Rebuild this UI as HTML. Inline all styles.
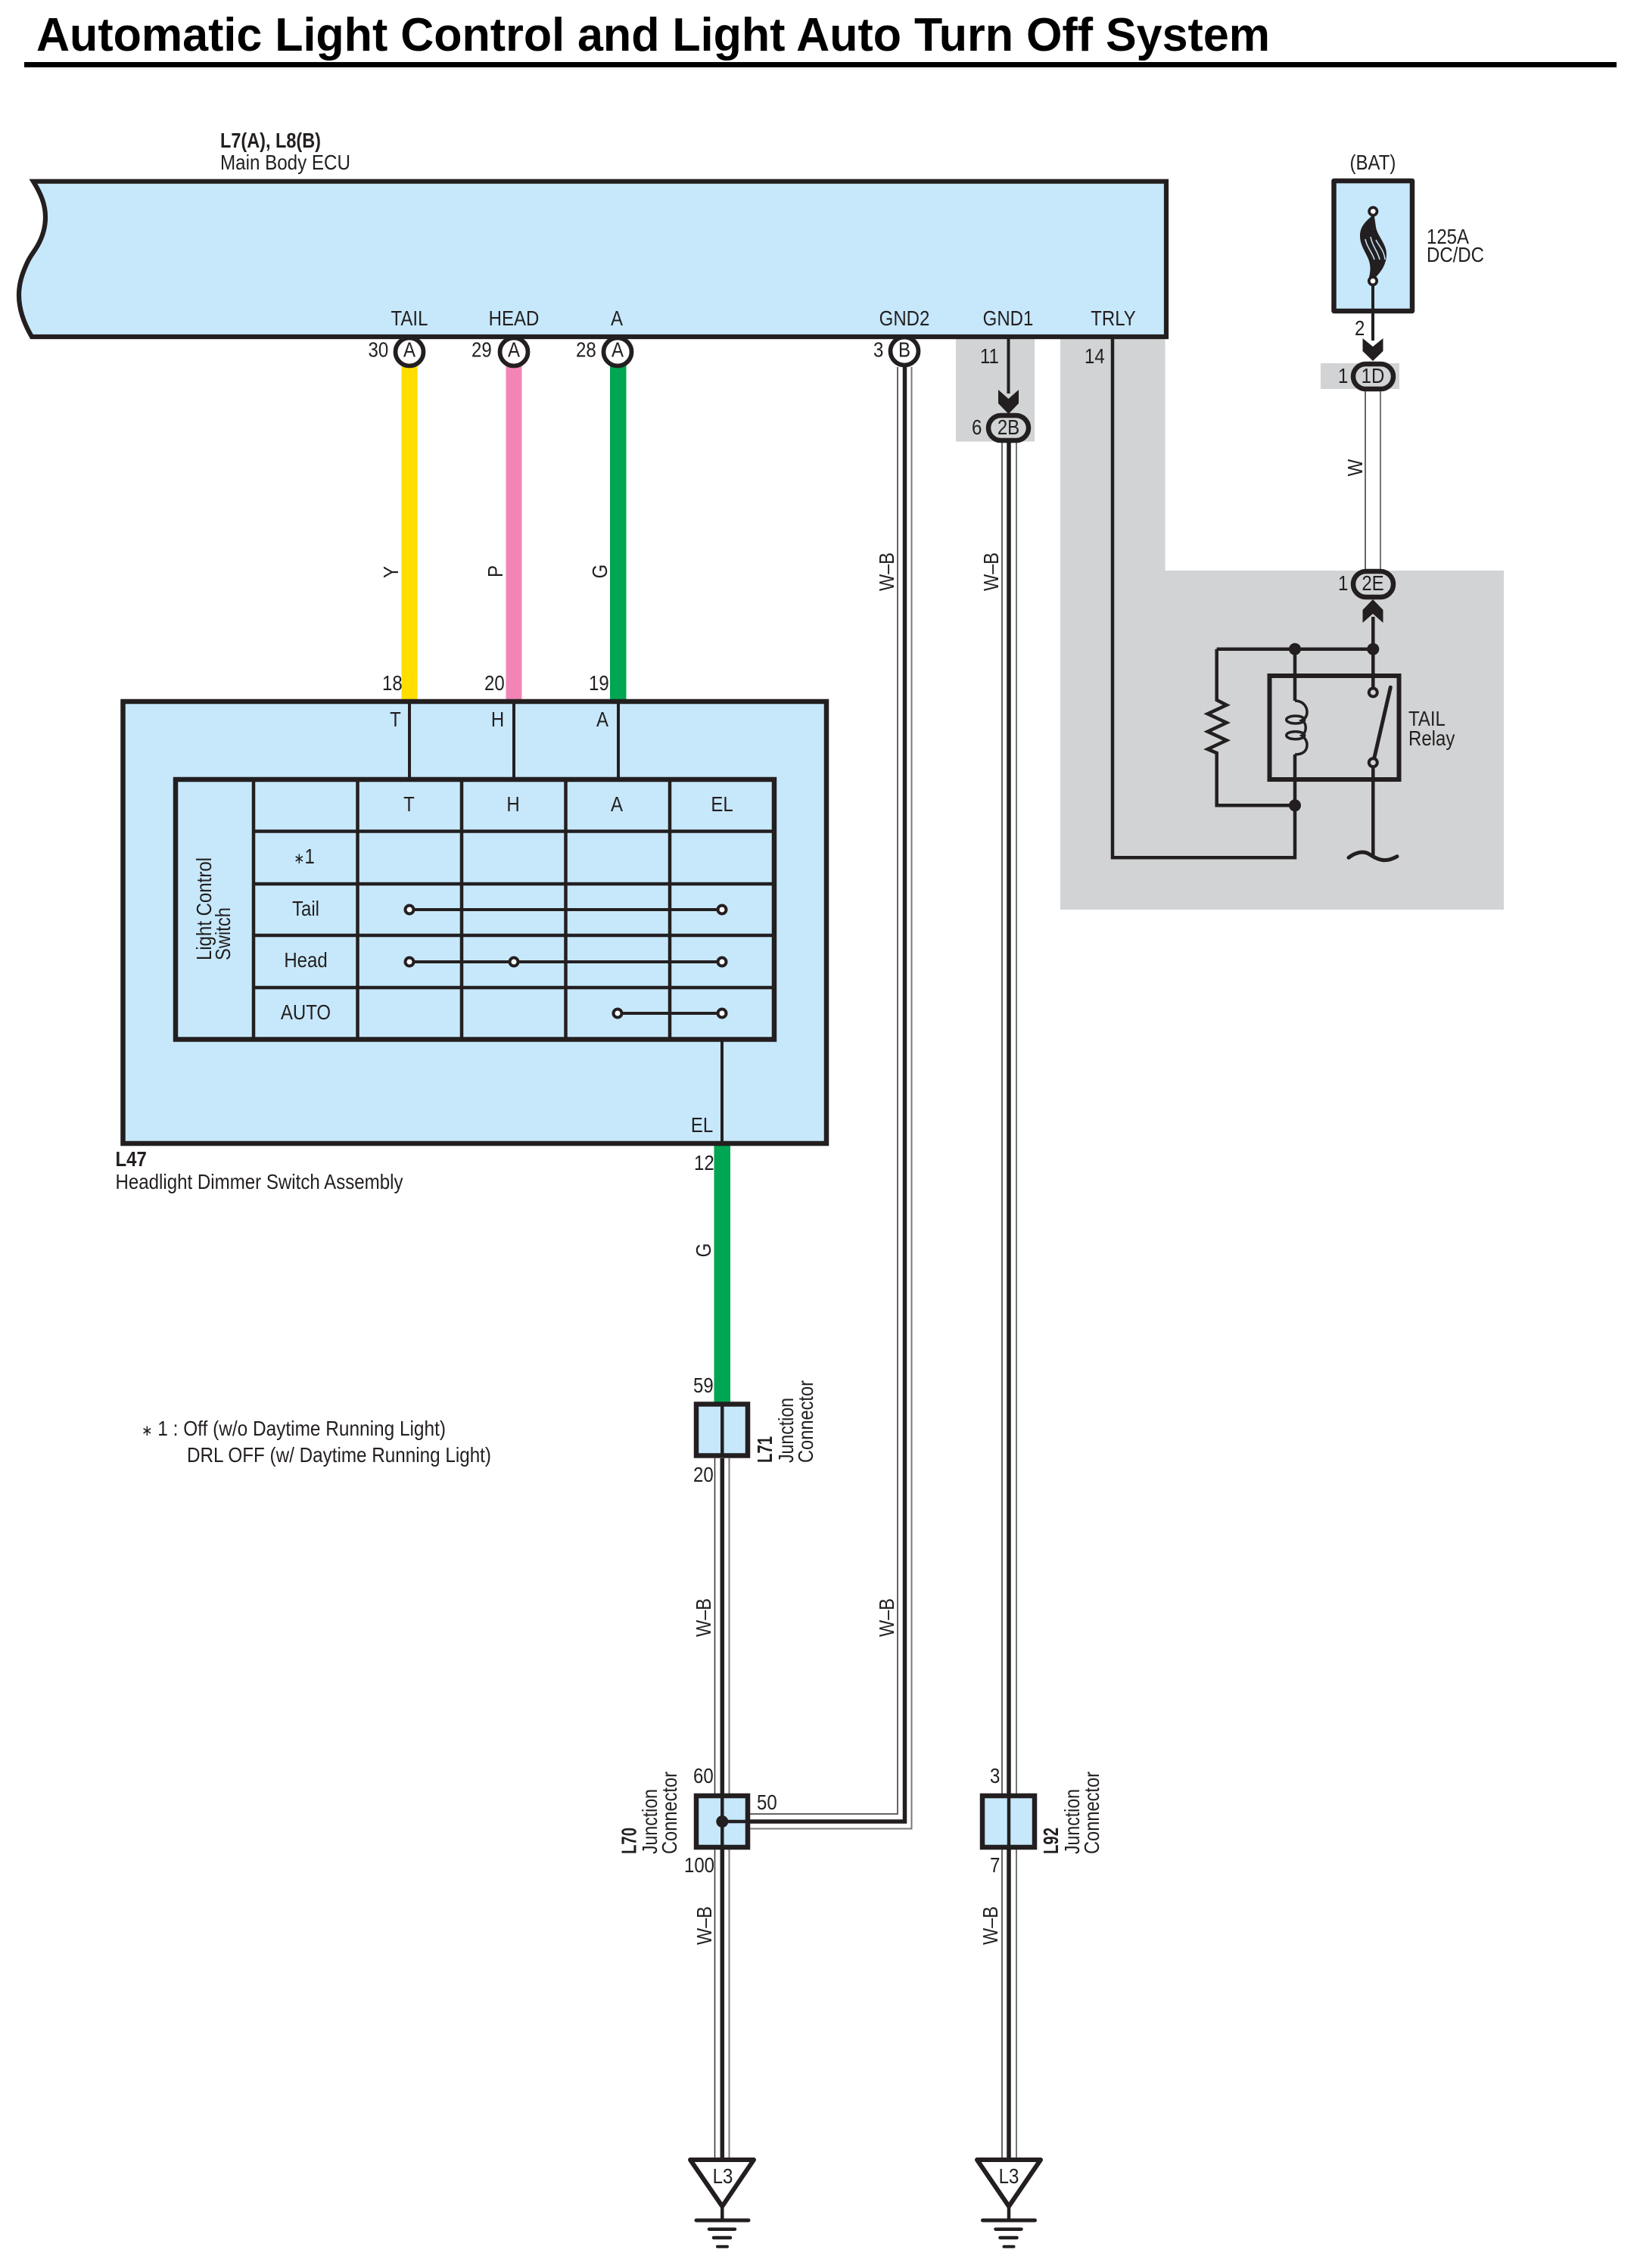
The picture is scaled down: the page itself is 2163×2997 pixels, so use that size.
<!DOCTYPE html>
<html><head><meta charset="utf-8"><style>
html,body{margin:0;padding:0;background:#fff}
svg{display:block}
text{font-family:"Liberation Sans",sans-serif;font-size:24px;fill:#231f20;transform-box:fill-box;transform-origin:50% 81%;transform:scaleY(1.17)}
text.t{transform:none;font-size:62px;font-weight:bold;fill:#000}
.c{text-anchor:middle}
.b{font-weight:bold}
</style></head><body>
<svg xmlns="http://www.w3.org/2000/svg" width="2163" height="2997" viewBox="0 0 2163 2997">
<rect width="2163" height="2997" fill="#fff"/>
<!-- title -->
<text class="t" x="48" y="67" textLength="1630" lengthAdjust="spacingAndGlyphs">Automatic Light Control and Light Auto Turn Off System</text>
<rect x="32" y="82" width="2104" height="7" fill="#000"/>
<!-- gray areas -->
<rect x="1263" y="448" width="104" height="135.500" fill="#d1d3d4"/>
<polygon points="1401,448 1539.500,448 1539.500,754 1987,754 1987,1202 1401,1202" fill="#d1d3d4"/>
<rect x="1745" y="480" width="104" height="34" fill="#d1d3d4"/>
<!-- ECU -->
<path d="M44 239.700C54 256,60 270,60 287C60 303,55 315,50 324C45 333,40 338,36 347C29 362,25 375,25 390C25 410,32 428,42 445L1541 445L1541 239.700Z" fill="#c7e8fb" stroke="#231f20" stroke-width="6.200" stroke-linejoin="miter"/>
<text x="291" y="195" class="b" textLength="133" lengthAdjust="spacingAndGlyphs">L7(A), L8(B)</text>
<text x="291" y="224" textLength="172" lengthAdjust="spacingAndGlyphs">Main Body ECU</text>
<text x="541" y="430" class="c">TAIL</text>
<text x="679" y="430" class="c">HEAD</text>
<text x="815" y="430" class="c">A</text>
<text x="1195" y="430" class="c">GND2</text>
<text x="1332" y="430" class="c">GND1</text>
<text x="1471" y="430" class="c">TRLY</text>
<!-- colored wires -->
<rect x="530.500" y="483" width="21" height="443" fill="#ffde00"/>
<rect x="668.500" y="483" width="21" height="443" fill="#f285b5"/>
<rect x="806" y="483" width="21.500" height="443" fill="#00a651"/>
<rect x="943.500" y="1511" width="21.500" height="342" fill="#00a651"/>
<!-- ECU connectors -->
<g fill="#fff" stroke="#231f20" stroke-width="5.800">
<circle cx="541" cy="465" r="18.500"/><circle cx="679" cy="465" r="18.500"/><circle cx="816" cy="465" r="18.500"/><circle cx="1195" cy="464" r="18.500"/>
</g>
<text x="541" y="471.500" class="c">A</text><text x="679" y="471.500" class="c">A</text><text x="816" y="471.500" class="c">A</text><text x="1195" y="471.500" class="c">B</text>
<text x="486.500" y="471.500">30</text><text x="623" y="471.500">29</text><text x="761" y="471.500">28</text><text x="1154" y="471.500">3</text>
<text x="1295" y="480">11</text><text x="1433" y="480">14</text><text x="1284" y="574">6</text>
<text x="505" y="912">18</text><text x="640" y="912">20</text><text x="778" y="912">19</text><text x="917" y="1546">12</text>
<!-- switch assembly -->
<rect x="162.500" y="927" width="929.500" height="584" fill="#c7e8fb" stroke="#231f20" stroke-width="6.500"/>
<g stroke="#231f20" stroke-width="4" fill="none">
<path d="M541 927V1030M679 927V1030M817 927V1030M954 1373V1511"/>
</g>
<rect x="232" y="1030" width="791" height="343.500" fill="#c7e8fb" stroke="#231f20" stroke-width="6.500"/>
<g stroke="#231f20" stroke-width="4.500" fill="none">
<path d="M335 1030V1373M472.500 1030V1373M610 1030V1373M747.500 1030V1373M885 1030V1373"/>
<path d="M335 1098.500H1023M335 1168H1023M335 1236H1023M335 1305H1023"/>
<path d="M541 1202H954M541 1271H954M816 1339H954" stroke-width="4"/>
</g>
<g fill="#fff" stroke="#231f20" stroke-width="4">
<circle cx="541" cy="1202" r="5.500"/><circle cx="954" cy="1202" r="5.500"/>
<circle cx="541" cy="1271" r="5.500"/><circle cx="679" cy="1271" r="5.500"/><circle cx="954" cy="1271" r="5.500"/>
<circle cx="816" cy="1339" r="5.500"/><circle cx="954" cy="1339" r="5.500"/>
</g>
<text x="540.500" y="1072" class="c">T</text><text x="678" y="1072" class="c">H</text><text x="815" y="1072" class="c">A</text><text x="954" y="1072" class="c">EL</text>
<text x="402" y="1141" class="c"><tspan style="font-size:17px">∗</tspan>1</text>
<text x="404" y="1210" class="c">Tail</text>
<text x="404" y="1278" class="c">Head</text>
<text x="404" y="1347" class="c">AUTO</text>
<g transform="translate(279 1269) rotate(-90)"><text textLength="136" lengthAdjust="spacingAndGlyphs">Light Control</text></g>
<g transform="translate(304 1269) rotate(-90)"><text textLength="70" lengthAdjust="spacingAndGlyphs">Switch</text></g>
<text x="522.500" y="960" class="c">T</text><text x="657.500" y="960" class="c">H</text><text x="796" y="960" class="c">A</text><text x="927.500" y="1496" class="c">EL</text>
<text x="152.500" y="1541" class="b">L47</text>
<text x="152.500" y="1571" textLength="380" lengthAdjust="spacingAndGlyphs">Headlight Dimmer Switch Assembly</text>
<!-- note -->
<text x="187" y="1897" textLength="402" lengthAdjust="spacingAndGlyphs"><tspan style="font-size:17px">∗</tspan> 1 : Off (w/o Daytime Running Light)</text>
<text x="247" y="1932" textLength="402" lengthAdjust="spacingAndGlyphs">DRL OFF (w/ Daytime Running Light)</text>
<!-- w-b wires -->
<g fill="none" stroke="#333" stroke-width="1.500">
<path d="M944.500 1927V2370M944.500 2443V2853"/>
<path d="M1186 485V2397H991"/>
<path d="M1324 585V2370M1324 2443V2853"/>
<path d="M1804 517V753"/>
</g>
<g fill="none" stroke="#77787b" stroke-width="2">
<path d="M963.500 1927V2370M963.500 2443V2853"/>
<path d="M1204.500 485V2416.500H991"/>
<path d="M1343 585V2370M1343 2443V2853"/>
<path d="M1824 517V753"/>
</g>
<g fill="none" stroke="#231f20" stroke-width="5.500">
<path d="M954.300 1927V2370M954.300 2443V2853"/>
<path d="M1195.500 485V2407H991"/>
<path d="M1333 585V2370M1333 2443V2853"/>
</g>
<g transform="translate(1181 781) rotate(-90)"><text textLength="51" lengthAdjust="spacingAndGlyphs">W–B</text></g>
<g transform="translate(1319 781) rotate(-90)"><text textLength="51" lengthAdjust="spacingAndGlyphs">W–B</text></g>
<g transform="translate(939 2163) rotate(-90)"><text textLength="51" lengthAdjust="spacingAndGlyphs">W–B</text></g>
<g transform="translate(1181 2163) rotate(-90)"><text textLength="51" lengthAdjust="spacingAndGlyphs">W–B</text></g>
<g transform="translate(940 2570) rotate(-90)"><text textLength="51" lengthAdjust="spacingAndGlyphs">W–B</text></g>
<g transform="translate(1318 2570) rotate(-90)"><text textLength="51" lengthAdjust="spacingAndGlyphs">W–B</text></g>
<g transform="translate(526 756) rotate(-90)"><text class="c">Y</text></g>
<g transform="translate(664 755) rotate(-90)"><text class="c">P</text></g>
<g transform="translate(802 755) rotate(-90)"><text class="c">G</text></g>
<g transform="translate(939 1652) rotate(-90)"><text class="c">G</text></g>
<g transform="translate(1800 618) rotate(-90)"><text class="c">W</text></g>
<!-- junction connectors -->
<rect x="920" y="1855.500" width="68" height="68" fill="#c7e8fb" stroke="#231f20" stroke-width="6.500"/>
<rect x="920" y="2373" width="68" height="68" fill="#c7e8fb" stroke="#231f20" stroke-width="6.500"/>
<rect x="1298" y="2373" width="69" height="68" fill="#c7e8fb" stroke="#231f20" stroke-width="6.500"/>
<path d="M954.300 1855V1925M954.300 2373V2441M1333 2373V2441M954.300 2407H991" stroke="#231f20" stroke-width="4.500" fill="none"/>
<circle cx="954.300" cy="2407" r="8" fill="#231f20"/>
<text x="916" y="1840">59</text><text x="916" y="1958">20</text>
<text x="916" y="2356">60</text><text x="1000" y="2391">50</text><text x="904" y="2474">100</text>
<text x="1308" y="2356">3</text><text x="1308" y="2474">7</text>
<g transform="translate(1020 1933) rotate(-90)"><text class="b" textLength="35" lengthAdjust="spacingAndGlyphs">L71</text></g>
<g transform="translate(1048 1933) rotate(-90)"><text textLength="86" lengthAdjust="spacingAndGlyphs">Junction</text></g>
<g transform="translate(1074 1933) rotate(-90)"><text textLength="109" lengthAdjust="spacingAndGlyphs">Connector</text></g>
<g transform="translate(840.500 2450) rotate(-90)"><text class="b" textLength="35" lengthAdjust="spacingAndGlyphs">L70</text></g>
<g transform="translate(868 2450) rotate(-90)"><text textLength="86" lengthAdjust="spacingAndGlyphs">Junction</text></g>
<g transform="translate(894 2450) rotate(-90)"><text textLength="109" lengthAdjust="spacingAndGlyphs">Connector</text></g>
<g transform="translate(1398 2450) rotate(-90)"><text class="b" textLength="35" lengthAdjust="spacingAndGlyphs">L92</text></g>
<g transform="translate(1426 2450) rotate(-90)"><text textLength="86" lengthAdjust="spacingAndGlyphs">Junction</text></g>
<g transform="translate(1452 2450) rotate(-90)"><text textLength="109" lengthAdjust="spacingAndGlyphs">Connector</text></g>
<!-- grounds -->
<g fill="#fff" stroke="#231f20" stroke-width="6" stroke-linejoin="round">
<polygon points="912,2854 996,2854 954.300,2915.500"/>
<polygon points="1291,2854 1375,2854 1333,2915.500"/>
</g>
<g stroke="#231f20" fill="none" stroke-linecap="round">
<path d="M954.300 2916V2934M1333 2916V2934" stroke-width="4.500"/>
<path d="M920 2934H989M1298.500 2934H1367.500" stroke-width="5"/>
<path d="M937 2945.700H971M1315.500 2945.700H1349.500" stroke-width="4.500"/>
<path d="M943 2957H965M1321.500 2957H1343.500" stroke-width="4.500"/>
<path d="M948 2968.700H961M1326.500 2968.700H1339.500" stroke-width="4"/>
</g>
<text x="955" y="2885" class="c">L3</text><text x="1333" y="2885" class="c">L3</text>
<!-- GND1 -->
<path d="M1332.500 446V520" stroke="#231f20" stroke-width="4"/>
<polygon points="1319,515 1332.500,527 1346,515 1346,533 1332.500,547 1319,533" fill="#231f20"/>
<rect x="1306" y="549" width="53" height="33" rx="16.500" fill="#d1d3d4" stroke="#231f20" stroke-width="6.500"/>
<text x="1332.500" y="574" class="c">2B</text>
<!-- Fuse -->
<rect x="1762.500" y="239" width="103.500" height="172" fill="#c7e8fb" stroke="#231f20" stroke-width="6.500" stroke-linejoin="round"/>
<path d="M1814 371V450" stroke="#231f20" stroke-width="4"/>
<path d="M1812 286C1800 296,1797 303,1797 312C1797 325,1806 335,1809 345C1811 352,1811 358,1809 366L1818 366C1826 358,1832 348,1832 336C1832 322,1820 312,1818 300L1816 286Z" fill="#231f20"/>
<path d="M1804 316C1806 327,1813 333,1816 343M1811 313C1813 325,1820 331,1823 343M1818 317C1822 325,1829 331,1830 343" stroke="#c7e8fb" stroke-width="1.500" fill="none"/>
<circle cx="1814.300" cy="279.300" r="5.200" fill="#fff" stroke="#231f20" stroke-width="3.700"/>
<circle cx="1814" cy="371.300" r="5.200" fill="#fff" stroke="#231f20" stroke-width="3.700"/>
<text x="1814" y="224" class="c">(BAT)</text>
<text x="1885" y="322">125A</text>
<text x="1885" y="346">DC/DC</text>
<text x="1790" y="443">2</text>
<polygon points="1800.500,447 1814,458 1827.500,447 1827.500,464 1814,477 1800.500,464" fill="#231f20"/>
<rect x="1788" y="481" width="53" height="33" rx="16.500" fill="#d1d3d4" stroke="#231f20" stroke-width="6.500"/>
<text x="1814" y="506" class="c">1D</text>
<text x="1768" y="506">1</text>
<text x="1768" y="780">1</text>
<rect x="1788" y="755" width="53" height="34" rx="17" fill="#d1d3d4" stroke="#231f20" stroke-width="6.500"/>
<text x="1814" y="780" class="c">2E</text>
<polygon points="1800.500,823 1814,811 1827.500,823 1827.500,806 1814,792 1800.500,806" fill="#231f20"/>
<!-- relay -->
<rect x="1677.500" y="893" width="171" height="137" fill="none" stroke="#231f20" stroke-width="6"/>
<g fill="none" stroke="#231f20" stroke-width="4.500">
<path d="M1470 446V1133.300H1711V997M1711 857.700V926"/>
<path d="M1814.300 815V915M1814.300 1007V1133"/>
<path d="M1607.700 857.700H1814"/>
<path d="M1607.700 857.700V925L1620.700 931.700L1595.700 943.300L1620.700 955L1595.700 966.700L1620.700 978.300L1595.700 990L1607.700 995V1064.300H1711"/>
<path d="M1837.300 908.300L1815.500 1003" stroke-width="5" stroke-linecap="round"/>
<path d="M1782 1133.300C1790 1127,1800 1124,1808 1128C1818 1134,1828 1142,1846 1131.700" stroke-width="5" stroke-linecap="round"/>
<path d="M1711 926C1722 926,1727 934,1727 941C1727 947,1724 950,1720 952C1727 955,1727 968,1720 972C1724 975,1727 979,1727 984C1727 992,1722 997,1711 997" stroke-width="3.500"/>
<ellipse cx="1711.700" cy="951" rx="12" ry="5" stroke-width="3.500"/>
<ellipse cx="1711.700" cy="971.700" rx="12" ry="5" stroke-width="3.500"/>
</g>
<circle cx="1711" cy="857.700" r="8" fill="#231f20"/><circle cx="1814.300" cy="857.700" r="8" fill="#231f20"/><circle cx="1711" cy="1064.300" r="8" fill="#231f20"/>
<circle cx="1814.300" cy="915" r="5.500" fill="#d1d3d4" stroke="#231f20" stroke-width="4"/>
<circle cx="1814.300" cy="1007.700" r="5.500" fill="#d1d3d4" stroke="#231f20" stroke-width="4"/>
<text x="1861" y="959">TAIL</text>
<text x="1861" y="985">Relay</text>
</svg>
</body></html>
